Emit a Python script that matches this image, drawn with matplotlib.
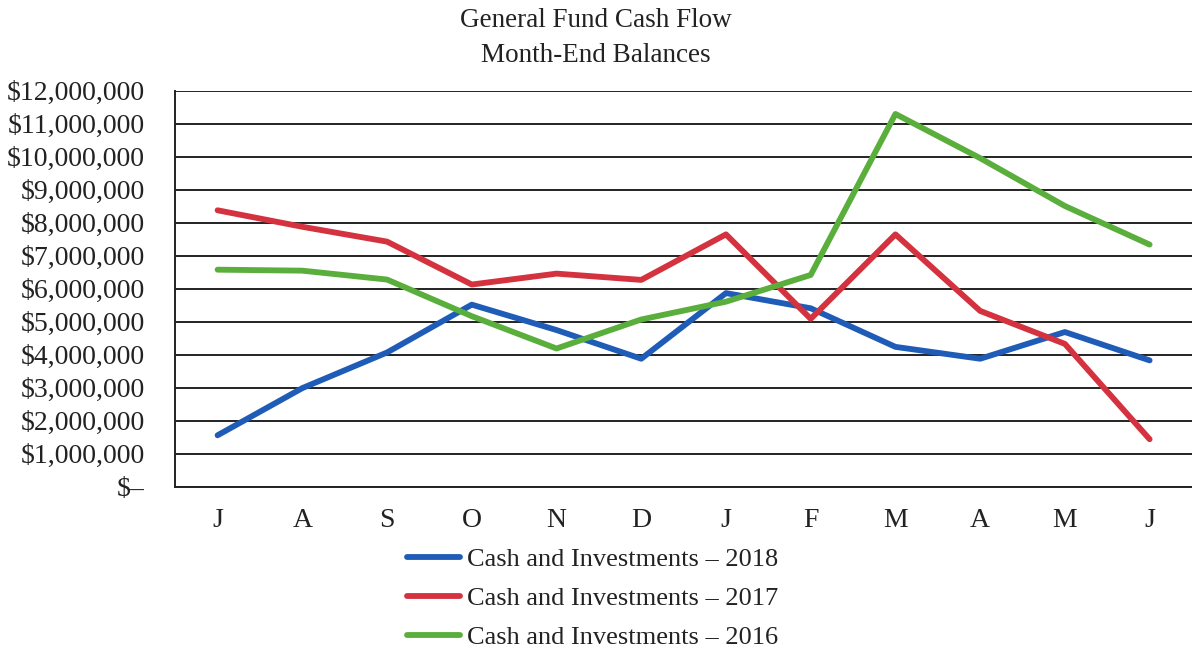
import numpy as np
import matplotlib
matplotlib.use('Agg')
import matplotlib.pyplot as plt
from matplotlib.ticker import FuncFormatter

# month-end balances, in dollars
months = ['J', 'A', 'S', 'O', 'N', 'D', 'J', 'F', 'M', 'A', 'M', 'J']
cash_2018 = [1560000, 2990000, 4070000, 5520000, 4750000, 3880000,
             5870000, 5410000, 4240000, 3880000, 4690000, 3830000]
cash_2017 = [8380000, 7880000, 7430000, 6130000, 6460000, 6270000,
             7650000, 5090000, 7650000, 5330000, 4330000, 1440000]
cash_2016 = [6580000, 6550000, 6280000, 5170000, 4190000, 5070000,
             5610000, 6420000, 11300000, 9960000, 8510000, 7340000]
labels = ['Cash and Investments \u2013 2018',
          'Cash and Investments \u2013 2017',
          'Cash and Investments \u2013 2016']

plt.rcParams['font.family'] = ['Liberation Serif', 'DejaVu Serif']

fig = plt.figure(figsize=(11.92, 6.49), dpi=100)
ax = fig.add_axes([0.147, 0.250, 0.853, 0.610])

x = np.arange(len(months))
ax.plot(x, cash_2018, color='#1f5cb8', lw=4.2, solid_capstyle='round', label=labels[0])
ax.plot(x, cash_2017, color='#d3323e', lw=4.2, solid_capstyle='round', label=labels[1])
ax.plot(x, cash_2016, color='#5aae3c', lw=4.2, solid_capstyle='round', label=labels[2])

ax.set_xlim(-0.5, len(months) - 0.5)
ax.set_ylim(0, 12000000)
ax.set_yticks(np.arange(0, 12000001, 1000000))
ax.yaxis.set_major_formatter(FuncFormatter(lambda v, p: '$\u2013' if v == 0 else f'${v:,.0f}'))
ax.set_xticks(x)
ax.set_xticklabels(months)

ax.grid(axis='y', color='#222222', lw=1.4)
ax.set_axisbelow(True)
for s in ['top', 'right']:
    ax.spines[s].set_visible(False)
ax.spines['left'].set_color('#222222')
ax.spines['left'].set_linewidth(1.4)
ax.spines['bottom'].set_color('#222222')
ax.spines['bottom'].set_linewidth(1.4)
ax.tick_params(axis='both', length=0, labelsize=20, colors='#222222')
ax.tick_params(axis='y', pad=22)
ax.tick_params(axis='x', pad=15)

fig.suptitle('General Fund Cash Flow\nMonth-End Balances', y=0.987, fontsize=19.5,
             color='#222222', linespacing=1.5)

fig.legend(loc='upper center', bbox_to_anchor=(0.497, 0.173), frameon=False, ncol=1,
           fontsize=19, handlelength=2.0, handletextpad=0.27, labelspacing=0.6,
           borderaxespad=0, labelcolor='#222222')

fig.savefig('out.png', dpi=100)
